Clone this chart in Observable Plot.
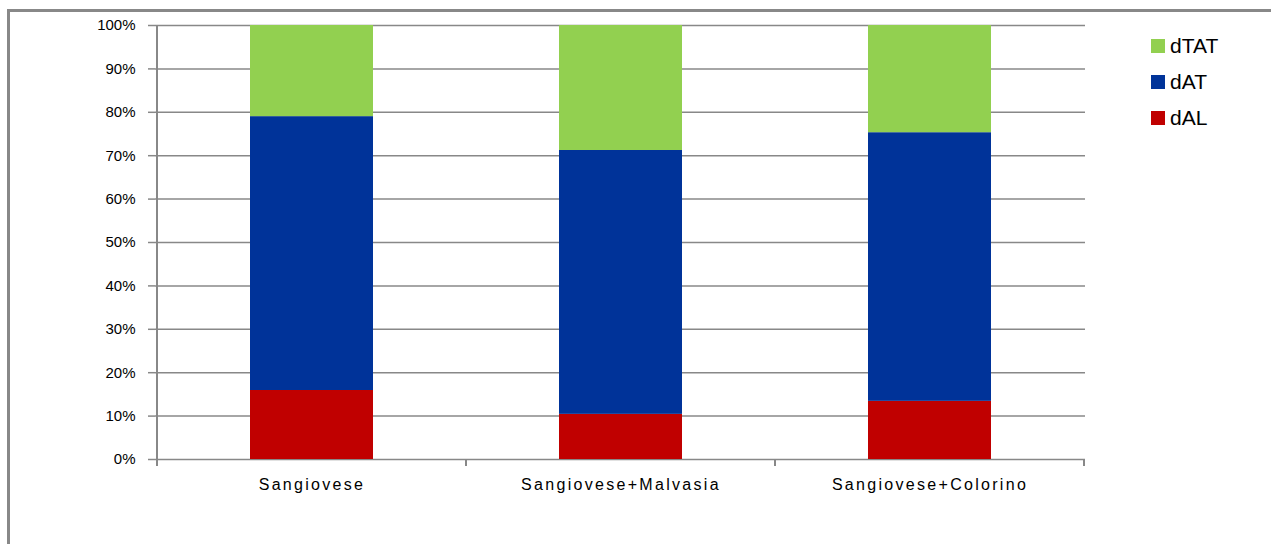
<!DOCTYPE html>
<html>
<head>
<meta charset="utf-8">
<script src="https://cdn.jsdelivr.net/npm/d3@7"></script>
<script src="https://cdn.jsdelivr.net/npm/@observablehq/plot@0.6"></script>
<style>
  html, body { margin: 0; padding: 0; background: #fff; }
  #wrap { position: relative; width: 1271px; height: 544px; overflow: hidden; font-family: "Liberation Sans", Arial, sans-serif; }
  #frame { position: absolute; left: 7px; top: 9px; width: 1300px; height: 600px; border-left: 3px solid #888; border-top: 3px solid #888; box-sizing: border-box; }
  #legend { position: absolute; left: 1151px; top: 28px; font-size: 21px; color: #000; }
  .li { display: flex; align-items: center; height: 36px; }
  .sw { width: 14px; height: 14px; margin-right: 5px; }
  svg { position: absolute; left: 0; top: 0; }
  g[aria-label="x-axis tick label"] text { letter-spacing: 2.3px; }
</style>
</head>
<body>
<div id="wrap"><div id="frame"></div></div>
<script>
const categories = ["Sangiovese", "Sangiovese+Malvasia", "Sangiovese+Colorino"];
const series = ["dAL", "dAT", "dTAT"];
const dAL  = [0.159, 0.104, 0.134];
const dAT  = [0.631, 0.608, 0.619];
const dTAT = [0.210, 0.288, 0.247];
const colors = ["#C00000", "#003399", "#92D050"];
const yTicks = [0, 0.1, 0.2, 0.3, 0.4, 0.5, 0.6, 0.7, 0.8, 0.9, 1.0];

const values = {dAL, dAT, dTAT};
const data = [];
for (const s of series) categories.forEach((c, i) => data.push({cat: c, series: s, value: values[s][i]}));

function boundaryTicks(index, scales) {
  const x = scales.x, y = scales.y;
  const g = d3.create("svg:g").attr("stroke", "#888").attr("stroke-width", 2);
  const step = x.step(), bw = x.bandwidth();
  const y0 = y(0);
  const x0 = x(categories[0]) + bw / 2 - step / 2;
  g.append("line").attr("x1", x0).attr("x2", x0).attr("y1", y(1)).attr("y2", y0 + 7);
  for (const c of categories) {
    const bx = x(c) + bw / 2 + step / 2;
    g.append("line").attr("x1", bx).attr("x2", bx).attr("y1", y0).attr("y2", y0 + 7);
  }
  return g.node();
}

const chart = Plot.plot({
  width: 1271,
  height: 544,
  marginLeft: 155,
  marginRight: 186,
  marginTop: 25,
  marginBottom: 85,
  style: {fontFamily: "Liberation Sans, Arial, sans-serif", fontSize: "15px", color: "#000", background: "transparent"},
  x: {domain: categories, paddingInner: 0.603, paddingOuter: 0.3016, label: null},
  y: {domain: [0, 1], label: null},
  color: {domain: series, range: colors},
  marks: [
    Plot.ruleY(yTicks, {stroke: "#888", strokeWidth: 1.5, strokeOpacity: 1}),
    Plot.barY(data, {x: "cat", y: "value", fill: "series", order: series}),
    Plot.axisY({ticks: yTicks, tickFormat: d => Math.round(d * 100) + "%", tickSize: 7, tickPadding: 13, stroke: "#888", strokeWidth: 1.5, strokeOpacity: 1, fontSize: 15, label: null}),
    Plot.axisX({tickSize: 0, tickPadding: 19, fontSize: 16, label: null}),
    boundaryTicks
  ]
});
document.getElementById("wrap").appendChild(chart);

const legend = document.createElement("div");
legend.id = "legend";
[...series].reverse().forEach(s => {
  const row = document.createElement("div");
  row.className = "li";
  const sw = document.createElement("div");
  sw.className = "sw";
  sw.style.background = colors[series.indexOf(s)];
  const t = document.createElement("span");
  t.textContent = s;
  row.appendChild(sw); row.appendChild(t);
  legend.appendChild(row);
});
document.getElementById("wrap").appendChild(legend);
</script>
</body>
</html>
